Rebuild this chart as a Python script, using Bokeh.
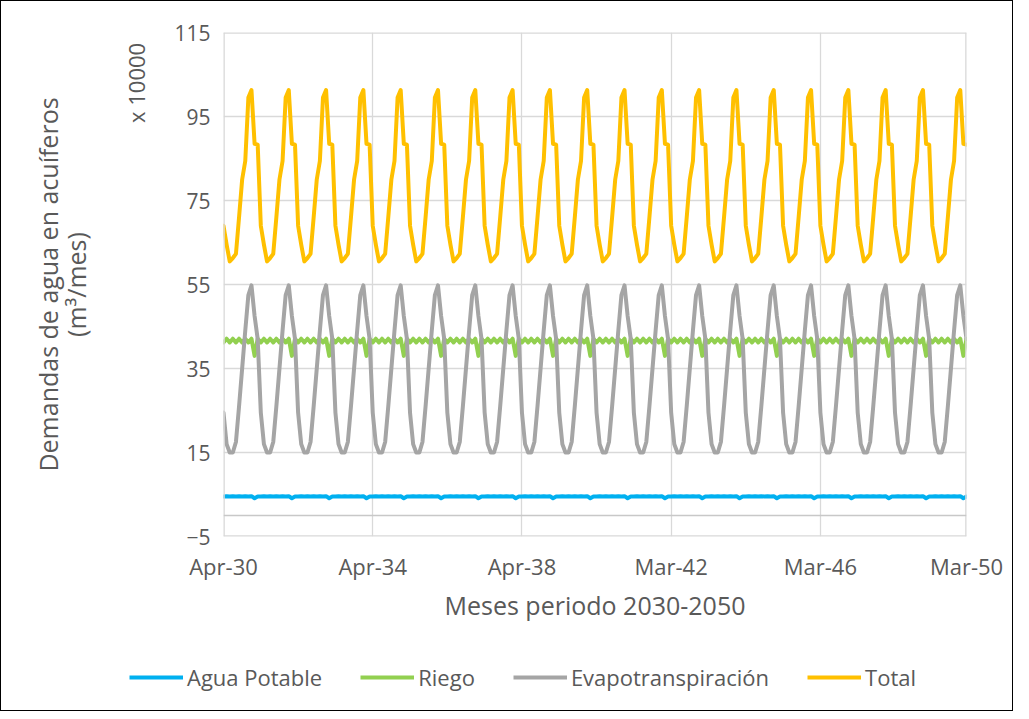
import numpy as np
from bokeh.plotting import figure
from bokeh.layouts import column
from bokeh.models import Range1d, FixedTicker, Span, LinearAxis, Legend, LegendItem
from bokeh.embed import file_html
from bokeh.resources import INLINE

# Monthly pattern (Apr .. Mar), values in units of 10000 m3/mes; the same every year
months = ["Apr", "May", "Jun", "Jul", "Aug", "Sep", "Oct", "Nov", "Dec", "Jan", "Feb", "Mar"]
n_years = 20
agua_potable = [4.5, 4.6, 4.5, 4.6, 4.5, 4.6, 4.5, 4.6, 4.5, 4.6, 4.1, 4.5]
riego = [41.2, 42.1, 41.2, 42.1, 41.2, 42.1, 41.2, 42.1, 41.2, 42.1, 38.0, 42.1]
evapotranspiracion = [24.5, 17.0, 15.0, 15.0, 17.5, 26.0, 35.0, 44.0, 52.5, 54.8, 47.5, 42.0]
total = [69.0, 64.5, 60.5, 61.3, 62.3, 71.0, 80.0, 84.4, 99.5, 101.3, 88.5, 88.3]

series_names = ["Agua Potable", "Riego", "Evapotranspiración", "Total"]
series_colors = ["#00B0F0", "#92D050", "#A5A5A5", "#FFC000"]

x_tick_pos = [0, 48, 96, 144, 192, 239]
x_tick_labels = ["Apr-30", "Apr-34", "Apr-38", "Mar-42", "Mar-46", "Mar-50"]
y_ticks = [-5, 15, 35, 55, 75, 95, 115]
unit_label = "x 10000"
unit_label_pos = 103

n_months = n_years * 12
x = np.arange(n_months)
data = [np.tile(agua_potable, n_years), np.tile(riego, n_years),
        np.tile(evapotranspiracion, n_years), np.tile(total, n_years)]

TEXT = "#595959"
FONT = "Open Sans"
GRID = "#D9D9D9"
LW = 4

p = figure(width=1011, height=640, output_backend="svg", toolbar_location=None,
           x_range=Range1d(0, n_months - 1), y_range=Range1d(-5, 115),
           min_border_left=222, min_border_right=46, min_border_top=31, min_border_bottom=105)
p.frame_align = False
p.outline_line_color = None
p.background_fill_color = "white"
p.border_fill_color = "white"

# grid
p.xgrid.ticker = FixedTicker(ticks=x_tick_pos)
p.ygrid.ticker = FixedTicker(ticks=y_ticks)
for g in (p.xgrid, p.ygrid):
    g.grid_line_color = GRID
    g.grid_line_width = 1.3

# edges of the plot area and the horizontal axis line at zero
p.add_layout(Span(location=x_tick_pos[0], dimension="height", line_color=GRID, line_width=2.6))
p.add_layout(Span(location=x_tick_pos[-1], dimension="height", line_color=GRID, line_width=2.6))
p.add_layout(Span(location=y_ticks[-1], dimension="width", line_color=GRID, line_width=2.6))
p.add_layout(Span(location=y_ticks[0], dimension="width", line_color=GRID, line_width=2.6))
p.add_layout(Span(location=0, dimension="width", line_color="#C8C8C8", line_width=1.3))

for name, col, ys in zip(series_names, series_colors, data):
    p.line(x, ys, line_color=col, line_width=LW, line_join="round", line_cap="round")

# second left axis: carries the display-unit text and the axis title
unit_axis = LinearAxis(ticker=FixedTicker(ticks=[unit_label_pos]),
                       major_label_overrides={unit_label_pos: unit_label})
p.add_layout(unit_axis, "left")

# axes
p.xaxis.ticker = FixedTicker(ticks=x_tick_pos)
p.xaxis.major_label_overrides = {t: l for t, l in zip(x_tick_pos, x_tick_labels)}
p.yaxis[0].ticker = FixedTicker(ticks=y_ticks)
for ax in (p.xaxis[0], p.yaxis[0], unit_axis):
    ax.axis_line_color = None
    ax.major_tick_line_color = None
    ax.minor_tick_line_color = None
    ax.major_tick_out = 0
    ax.major_tick_in = 0
    ax.major_label_text_color = TEXT
    ax.major_label_text_font = FONT
    ax.major_label_text_font_size = "21px"
    ax.axis_label_text_color = TEXT
    ax.axis_label_text_font = FONT
    ax.axis_label_text_font_size = "25px"
    ax.axis_label_text_font_style = "normal"

p.xaxis.major_label_text_font_size = "22px"
p.xaxis.axis_label = "Meses periodo 2030-2050"
p.xaxis.major_label_standoff = 14
p.xaxis.axis_label_standoff = 4
p.yaxis[0].major_label_standoff = 13

unit_axis.major_label_orientation = "vertical"
unit_axis.major_label_text_font_size = "22px"
unit_axis.major_label_standoff = 20
unit_axis.axis_label = "Demandas de agua en acuíferos\n(m³/mes)"
unit_axis.axis_label_text_line_height = 0.82
unit_axis.axis_label_standoff = 26

# legend strip below the chart (same series, drawn in a range where they are out of view)
leg = figure(width=1011, height=69, output_backend="svg", toolbar_location=None,
             x_range=Range1d(0, 1), y_range=Range1d(1000, 1001),
             x_axis_type=None, y_axis_type=None, min_border=0)
leg.frame_align = False
leg.outline_line_color = None
leg.border_fill_color = "white"
leg.background_fill_color = "white"
leg_renderers = [leg.line(x, ys, line_color=c, line_width=LW) for c, ys in zip(series_colors, data)]
legend = Legend(items=[LegendItem(label=n, renderers=[r]) for n, r in zip(series_names, leg_renderers)],
                orientation="horizontal", location=(128, 18),
                glyph_width=54, glyph_height=20, label_standoff=4, spacing=38,
                padding=0, margin=0, border_line_color=None, background_fill_alpha=0,
                label_text_font=FONT, label_text_font_size="22px", label_text_color=TEXT)
leg.add_layout(legend)

layout = column(p, leg, spacing=0, styles={"border": "1px solid #000000"})

open("out.html", "w").write(file_html(layout, INLINE))
